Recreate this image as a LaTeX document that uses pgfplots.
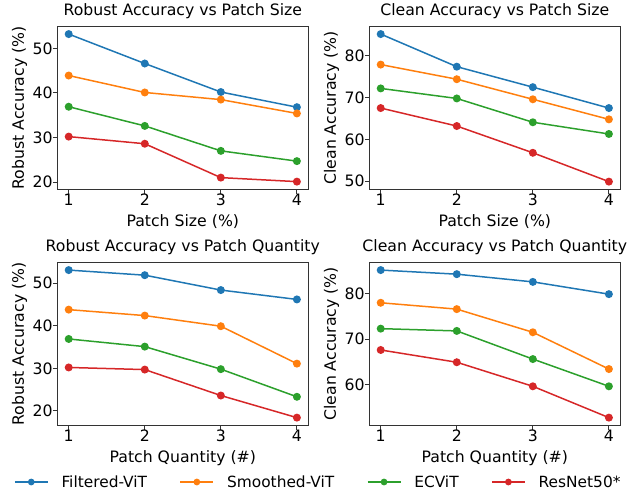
\documentclass[border=0pt]{standalone}
\usepackage{fontspec}
\setmainfont{DejaVu Sans}
\usepackage{pgfplots}
\pgfplotsset{compat=1.18}
\definecolor{tabblue}{HTML}{1F77B4}
\definecolor{taborange}{HTML}{FF7F0E}
\definecolor{tabgreen}{HTML}{2CA02C}
\definecolor{tabred}{HTML}{D62728}
\pgfplotsset{
  myax/.style={
    scale only axis,
    width=251bp, height=162.3bp,
    font=\fontsize{15.7bp}{19bp}\selectfont,
    /pgf/number format/assume math mode=true,
    axis line style={black!80, line width=1bp},
    xmin=0.85, xmax=4.15,
    xtick={1,2,3,4},
    tick align=outside,
    xtick pos=bottom, ytick pos=left,
    major tick length=4.5bp,
    tick style={black!80, line width=1bp},
    title style={at={(axis description cs:0.5,1)}, anchor=base, yshift=5bp, inner sep=0pt},
    xlabel style={at={(axis description cs:0.5,0)}, anchor=base, yshift=-37bp, inner sep=0pt},
    ylabel style={at={(axis description cs:-0.1327,0.5)}, anchor=base, inner sep=0pt},
    xticklabel style={inner sep=0pt},
    yticklabel style={inner sep=0pt},
    every axis plot/.append style={line width=1.5bp, mark=*, mark size=3.2bp},
    legend image code/.code={\draw[mark repeat=2,mark phase=2,mark size=2.6bp,#1] plot coordinates {(0bp,0bp) (16.5bp,0bp) (33bp,0bp)};},
  },
}
\begin{document}
\begin{tikzpicture}
\path[use as bounding box] (0,0) rectangle (629bp,-491bp);
% Top-left
\begin{axis}[myax, at={(57.3bp,-26.7bp)}, anchor=north west,
  ymin=18.445, ymax=54.855, ytick={20,30,40,50},
  title={Robust Accuracy vs Patch Size},
  xlabel={Patch Size (\%)}, ylabel={Robust Accuracy (\%)}]
\addplot[tabblue] coordinates {(1,53.2) (2,46.6) (3,40.2) (4,36.8)};
\addplot[taborange] coordinates {(1,43.9) (2,40.1) (3,38.5) (4,35.4)};
\addplot[tabgreen] coordinates {(1,36.9) (2,32.6) (3,27.0) (4,24.7)};
\addplot[tabred] coordinates {(1,30.2) (2,28.6) (3,21.0) (4,20.1)};
\end{axis}
% Top-right
\begin{axis}[myax, at={(369.3bp,-26.7bp)}, anchor=north west,
  ymin=48.135, ymax=86.965, ytick={50,60,70,80},
  title={Clean Accuracy vs Patch Size},
  xlabel={Patch Size (\%)}, ylabel={Clean Accuracy (\%)}]
\addplot[tabblue] coordinates {(1,85.2) (2,77.4) (3,72.5) (4,67.5)};
\addplot[taborange] coordinates {(1,77.9) (2,74.4) (3,69.6) (4,64.8)};
\addplot[tabgreen] coordinates {(1,72.2) (2,69.8) (3,64.1) (4,61.3)};
\addplot[tabred] coordinates {(1,67.5) (2,63.2) (3,56.8) (4,49.9)};
\end{axis}
% Bottom-left
\begin{axis}[myax, at={(57.3bp,-262.7bp)}, anchor=north west,
  ymin=16.665, ymax=54.835, ytick={20,30,40,50},
  title={Robust Accuracy vs Patch Quantity},
  xlabel={Patch Quantity (\#)}, ylabel={Robust Accuracy (\%)},
  legend columns=4,
  legend style={draw=none, fill=none, inner sep=0pt, outer sep=0pt,
    at={(-0.1725,-0.3512)}, anchor=west,
    font=\fontsize{15.4bp}{18bp}\selectfont,
    nodes={inner sep=0pt, text depth=0pt},
    /tikz/every odd column/.style={column sep=13bp},
    /tikz/every even column/.style={column sep=32.5bp}},
  legend cell align=left]
\addplot[tabblue] coordinates {(1,53.1) (2,51.9) (3,48.4) (4,46.2)};
\addplot[taborange] coordinates {(1,43.8) (2,42.4) (3,39.9) (4,31.1)};
\addplot[tabgreen] coordinates {(1,36.9) (2,35.1) (3,29.8) (4,23.3)};
\addplot[tabred] coordinates {(1,30.2) (2,29.7) (3,23.6) (4,18.4)};
\legend{Filtered-ViT, Smoothed-ViT, ECViT, ResNet50*}
\end{axis}
% Bottom-right
\begin{axis}[myax, at={(369.3bp,-262.7bp)}, anchor=north west,
  ymin=51.075, ymax=86.825, ytick={60,70,80},
  title={Clean Accuracy vs Patch Quantity},
  xlabel={Patch Quantity (\#)}, ylabel={Clean Accuracy (\%)}]
\addplot[tabblue] coordinates {(1,85.2) (2,84.3) (3,82.6) (4,79.9)};
\addplot[taborange] coordinates {(1,78.0) (2,76.6) (3,71.5) (4,63.4)};
\addplot[tabgreen] coordinates {(1,72.3) (2,71.8) (3,65.6) (4,59.6)};
\addplot[tabred] coordinates {(1,67.6) (2,64.9) (3,59.6) (4,52.7)};
\end{axis}
\end{tikzpicture}
\end{document}
